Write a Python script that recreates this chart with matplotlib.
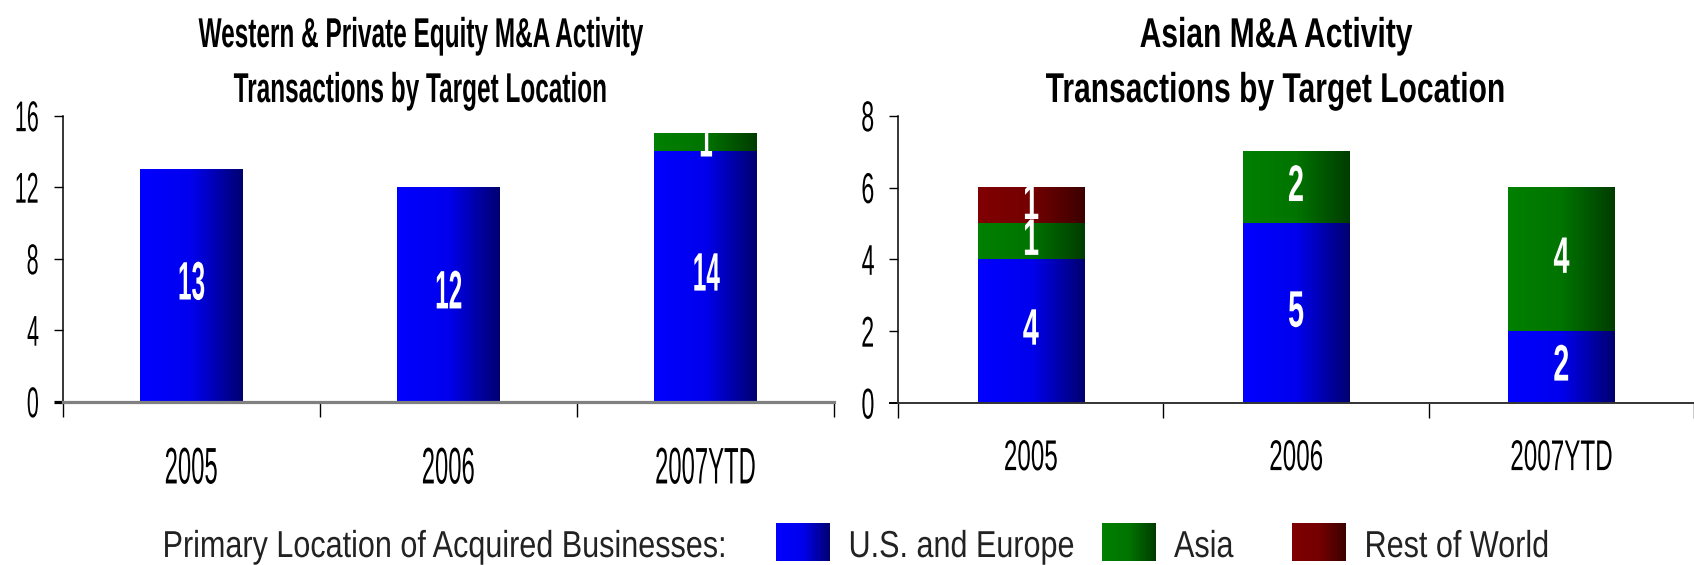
import matplotlib
matplotlib.use("Agg")
import matplotlib.pyplot as plt
import numpy as np
from matplotlib.colors import LinearSegmentedColormap
from matplotlib.patheffects import AbstractPathEffect
from matplotlib.transforms import Affine2D, Bbox

plt.rcParams['font.family'] = ['Liberation Sans', 'DejaVu Sans']

years = ["2005", "2006", "2007YTD"]

# western & private equity panel
west_us_eu = [13, 12, 14]
west_asia = [0, 0, 1]

# asian panel
asia_us_eu = [4, 5, 2]
asia_asia = [1, 2, 4]
asia_row = [1, 0, 0]

series_names = ["U.S. and Europe", "Asia", "Rest of World"]
legend_title = "Primary Location of Acquired Businesses:"

left_title = ["Western & Private Equity M&A Activity", "Transactions by Target Location"]
right_title = ["Asian M&A Activity", "Transactions by Target Location"]

cmaps = [
    LinearSegmentedColormap.from_list("blue", ["#0000ff", "#0000ee", "#000070"]),
    LinearSegmentedColormap.from_list("green", ["#008000", "#007400", "#003c00"]),
    LinearSegmentedColormap.from_list("red", ["#800000", "#740000", "#3c0000"]),
]
grad = np.linspace(0, 1, 256).reshape(1, -1)


class Squeeze(AbstractPathEffect):
    # draws text narrower than the font, like the condensed type in the original
    def __init__(self, sx, anchor="center"):
        super().__init__()
        self.sx = sx
        self.anchor = anchor

    def draw_path(self, renderer, gc, tpath, affine, rgbFace=None):
        ext = tpath.get_extents(affine)
        if self.anchor == "left":
            x0 = ext.x0
        elif self.anchor == "right":
            x0 = ext.x1
        else:
            x0 = (ext.x0 + ext.x1) / 2
        sq = Affine2D().translate(-x0, 0).scale(self.sx, 1).translate(x0, 0)
        renderer.draw_path(gc, tpath, affine + sq, rgbFace)


def narrow(t, sx, anchor="center"):
    t.set_path_effects([Squeeze(sx, anchor)])
    full = t.get_window_extent

    def extent(renderer=None, dpi=None):
        bb = full(renderer, dpi)
        x0 = {"left": bb.x0, "right": bb.x1}.get(anchor, (bb.x0 + bb.x1) / 2)
        return Bbox([[x0 + (bb.x0 - x0) * sx, bb.y0], [x0 + (bb.x1 - x0) * sx, bb.y1]])

    t.get_window_extent = extent


def stacked(ax, stacks, ymax, ystep, ysq, xfs, xsq, xpad, lab_fs, lab_sq, zero_color, zero_lw):
    x = np.arange(len(years))
    bottom = np.zeros(len(years))
    for vals, cmap in zip(stacks, cmaps):
        vals = np.array(vals, dtype=float)
        bars = ax.bar(x, vals, 0.4, bottom=bottom, color="none", zorder=2)
        for rect, v in zip(bars, vals):
            if v > 0:
                ax.imshow(grad, cmap=cmap, aspect="auto", zorder=2,
                          extent=[rect.get_x(), rect.get_x() + rect.get_width(),
                                  rect.get_y(), rect.get_y() + rect.get_height()])
        labels = ax.bar_label(bars, labels=[str(int(v)) if v else "" for v in vals],
                              label_type="center", color="white", fontsize=lab_fs,
                              fontweight="bold", zorder=3)
        for t in labels:
            narrow(t, lab_sq)
        bottom += vals

    ax.set_xlim(-0.5, 2.5)
    ax.set_ylim(0, ymax)
    ax.set_yticks(np.arange(0, ymax + 1, ystep))
    ax.set_xticks(x)
    ax.set_xticklabels(years)
    ax.set_xticks([-0.5, 0.5, 1.5, 2.5], minor=True)
    ax.tick_params(axis="x", which="major", length=0, pad=xpad, labelsize=xfs)
    ax.tick_params(axis="x", which="minor", length=11, width=1, direction="out")
    ax.tick_params(axis="y", length=6.5, width=1, pad=10, labelsize=31)
    for s in ["top", "right"]:
        ax.spines[s].set_visible(False)
    ax.spines["left"].set_linewidth(1.1)
    ax.spines["bottom"].set_color(zero_color)
    ax.spines["bottom"].set_linewidth(zero_lw)
    ax.spines["bottom"].set_zorder(4)
    zt = ax.yaxis.get_major_ticks()[0]
    zt.tick1line.set_color(zero_color)
    zt.tick1line.set_markeredgewidth(zero_lw)
    for t in ax.get_yticklabels():
        narrow(t, ysq, "right")
    for t in ax.get_xticklabels():
        narrow(t, xsq)


fig = plt.figure(figsize=(16.94, 5.65), dpi=100)
W, H = 1694, 565

ax1 = fig.add_axes([62.5 / W, (H - 401.7) / H, 771.5 / W, 286 / H])
stacked(ax1, [west_us_eu, west_asia], 16, 4, 0.50, 37, 0.464, 31.5, 39, 0.45, "#808080", 2.3)

ax2 = fig.add_axes([898 / W, (H - 403) / H, 796 / W, 287.3 / H])
stacked(ax2, [asia_us_eu, asia_asia, asia_row], 8, 2, 0.54, 31, 0.563, 26, 37, 0.56, "#333333", 1.4)

for cx, lines, sq in [(421, left_title, 0.585), (1276, right_title, 0.72)]:
    for ln, base in zip(lines, [47, 102]):
        t = fig.text(cx / W, 1 - base / H, ln, ha="center", va="baseline",
                     fontsize=30, fontweight="bold")
        narrow(t, sq)

# legend strip along the bottom
lax = fig.add_axes([0, 0, 1, 68 / H])
t = lax.text(162, 8, legend_title, fontsize=27, color="#222222", va="baseline")
narrow(t, 0.815, "left")
patch_x = [776, 1102, 1292]
for px, name, cmap in zip(patch_x, series_names, cmaps):
    lax.imshow(grad, cmap=cmap, aspect="auto", extent=[px, px + 54, 4, 42])
    t = lax.text(px + 72, 8, name, fontsize=27, color="#222222", va="baseline")
    narrow(t, 0.815, "left")
lax.set_xlim(0, W)
lax.set_ylim(0, 68)
lax.axis("off")

fig.savefig("out.png", dpi=100)
